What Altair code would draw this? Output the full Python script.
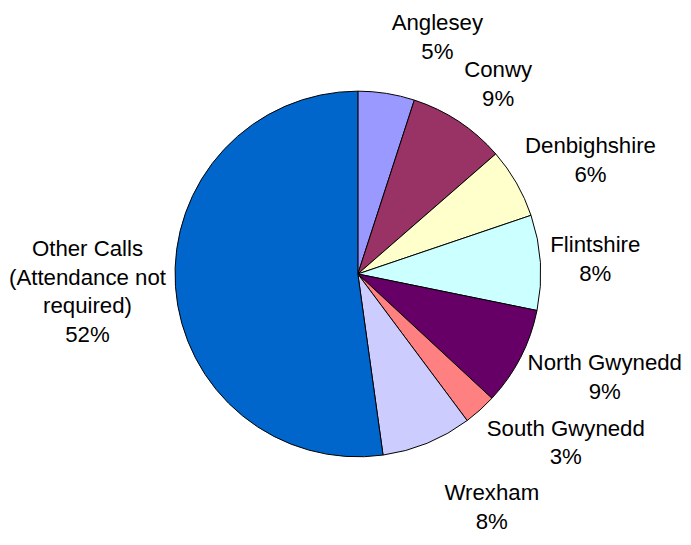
import math
import altair as alt
import pandas as pd

# ---- data ----
regions = ["Anglesey", "Conwy", "Denbighshire", "Flintshire", "North Gwynedd",
           "South Gwynedd", "Wrexham", "Other Calls (Attendance not required)"]
label_lines = [["Anglesey"], ["Conwy"], ["Denbighshire"], ["Flintshire"],
               ["North Gwynedd"], ["South Gwynedd"], ["Wrexham"],
               ["Other Calls", "(Attendance not", "required)"]]
shares = [5.0, 8.6, 6.2, 8.4, 8.7, 2.9, 8.0, 52.2]
colors = ["#9999FF", "#993366", "#FFFFCC", "#CCFFFF", "#660066",
          "#FF8080", "#CCCCFF", "#0066CC"]

# ---- layout constants ----
W, H = 683, 529
CX, CY = 354, 266
R = 185
GAP = 10
FS = 22.5
LH = 29
FONT = "Liberation Sans"

# Arial-compatible advance widths (per 1000 em), used to size label boxes
WIDTHS = {" ": 278, "%": 889, "(": 333, ")": 333, "A": 667, "C": 722, "D": 722,
          "F": 611, "G": 778, "N": 722, "O": 778, "S": 667, "W": 944, "a": 556,
          "b": 556, "c": 500, "d": 556, "e": 556, "g": 556, "h": 556, "i": 222,
          "l": 222, "m": 833, "n": 556, "o": 556, "q": 556, "r": 333, "s": 500,
          "t": 278, "u": 556, "w": 722, "x": 500, "y": 500}


def text_w(s):
    return sum(WIDTHS.get(ch, 556) for ch in s) / 1000 * FS


total = sum(shares)
cum = 0.0
items = []
for name, lines, v in zip(regions, label_lines, shares):
    mid = (cum + v / 2) / total * 2 * math.pi
    cum += v
    pct = f"{int(math.floor(v / total * 100 + 0.5))}%"
    all_lines = lines + [pct]
    w = max(text_w(l) for l in all_lines)
    h = len(all_lines) * LH
    s, c = math.sin(mid), math.cos(mid)
    ax = CX + (R + GAP) * s
    ay = CY - (R + GAP) * c
    kx = max(-1.0, min(1.0, 6 * s))
    ky = max(-1.0, min(1.0, 1.2 * c))
    items.append({"region": name, "label": "\n".join(all_lines), "n": len(all_lines),
                  "lx": ax + kx * w / 2, "ly": ay - ky * h / 2,
                  "w": w, "hh": ((len(all_lines) - 1) * LH + 22) / 2, "c": c, "s": s})


def overlap(a, b, pad):
    ox = min(a["lx"] + a["w"] / 2, b["lx"] + b["w"] / 2) - max(a["lx"] - a["w"] / 2, b["lx"] - b["w"] / 2)
    oy = min(a["ly"] + a["hh"], b["ly"] + b["hh"]) - max(a["ly"] - a["hh"], b["ly"] - b["hh"])
    return ox, oy


def resolve(side, pad=20):
    """push the label lying farther from the horizontal outward along its ray"""
    for _ in range(20):
        moved = False
        for i in range(len(side)):
            for j in range(i + 1, len(side)):
                a, b = side[i], side[j]
                ox, oy = overlap(a, b, pad)
                if ox > 0 and oy > 0:
                    ox += pad
                    oy += pad
                    m = a if abs(a["c"]) > abs(b["c"]) else b
                    dx, dy = m["s"], -m["c"]
                    need = min(ox / abs(dx) if abs(dx) > 1e-6 else 1e9,
                               oy / abs(dy) if abs(dy) > 1e-6 else 1e9)
                    m["lx"] += dx * need
                    m["ly"] += dy * need
                    moved = True
        if not moved:
            break


resolve([d for d in items if d["s"] >= 0])
resolve([d for d in items if d["s"] < 0])

# keep every label box inside the drawing
for d in items:
    d["lx"] = min(max(d["lx"], d["w"] / 2 + 1), W - d["w"] / 2 - 1)
    d["ly"] = min(max(d["ly"], d["hh"] + 1), H - d["hh"] - 1)

df = pd.DataFrame({"region": regions, "share": shares, "order": list(range(len(regions)))})
# Vega puts the first line at y for baseline "middle": shift so the block is centred
ldf = pd.DataFrame([{"region": d["region"], "label": d["label"], "lx": d["lx"],
                     "ly": d["ly"] - (d["n"] - 1) * LH / 2} for d in items])

pie = alt.Chart(df).mark_arc(outerRadius=R, stroke="black", strokeWidth=1).encode(
    theta=alt.Theta("share:Q", stack=True),
    color=alt.Color("region:N", scale=alt.Scale(domain=regions, range=colors), legend=None),
    order=alt.Order("order:Q"),
    x=alt.value(CX),
    y=alt.value(CY),
)

labels = alt.Chart(ldf).mark_text(
    font=FONT, fontSize=FS, lineBreak="\n", lineHeight=LH,
    align="center", baseline="middle", color="black",
).encode(
    x=alt.X("lx:Q", scale=None),
    y=alt.Y("ly:Q", scale=None),
    text=alt.Text("label:N"),
)

chart = alt.layer(pie, labels).properties(
    width=W, height=H, padding=0, background="white",
    autosize=alt.AutoSizeParams(type="none"),
).configure_view(stroke=None)

chart.save("out.html", embed_options={"renderer": "svg", "actions": False})
